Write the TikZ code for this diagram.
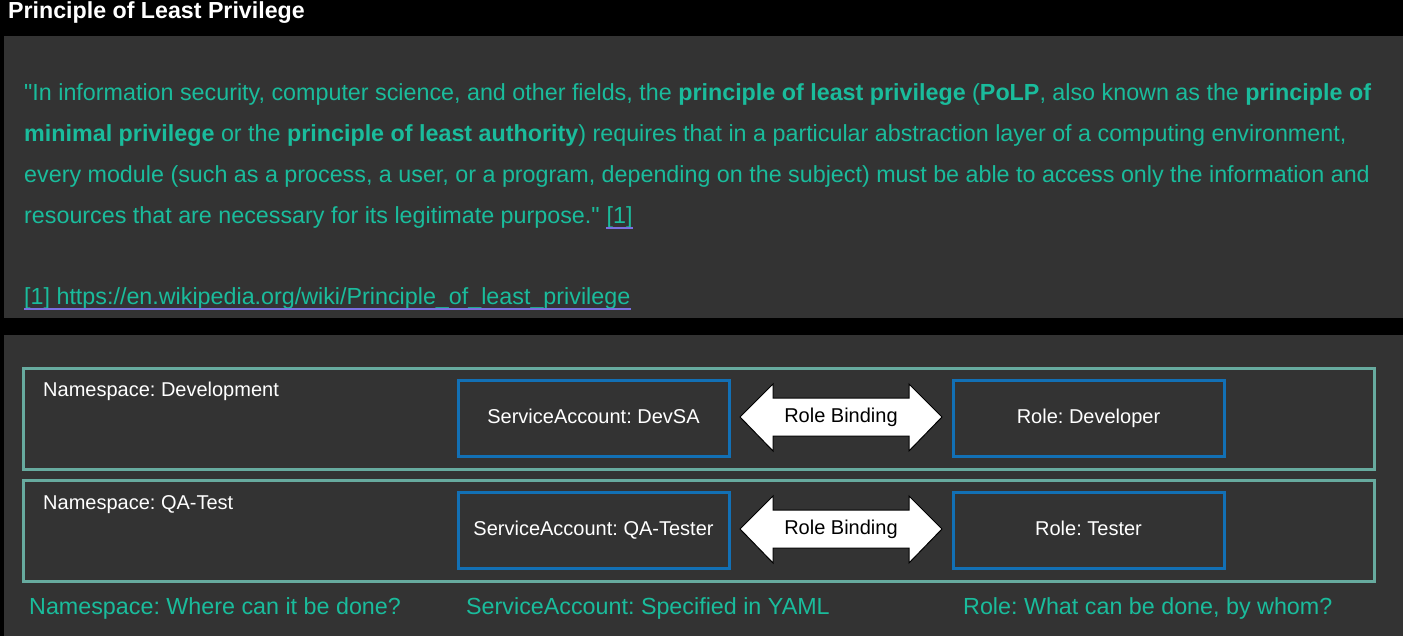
\documentclass[tikz,border=0pt]{standalone}
\usepackage{fontspec}
\setmainfont{Liberation Sans}[Ligatures=TeXOff]
\frenchspacing
\definecolor{bg}{HTML}{333333}
\definecolor{grn}{HTML}{1ABC9C}
\definecolor{nsteal}{HTML}{67AB9F}
\definecolor{blu}{HTML}{1270B5}
\definecolor{lnk}{HTML}{7A6FE0}
\tikzset{
  quote/.style={anchor=base west, inner sep=0, text=grn, font=\fontsize{23.3}{28}\selectfont},
  nsbox/.style={draw=nsteal, line width=3pt, minimum width=1351, minimum height=101, inner sep=0},
  bluebox/.style={draw=blu, line width=3pt, minimum width=271, minimum height=76, inner sep=0, text height=15pt, text depth=4.6pt, text=white, font=\fontsize{20}{24}\selectfont},
  nslabel/.style={anchor=west, inner sep=0, text=white, font=\fontsize{20}{24}\selectfont},
  rblabel/.style={inner sep=0, text=black, font=\fontsize{20}{24}\selectfont},
  arrowshape/.style={fill=white, draw=black, line width=1pt},
  caption/.style={anchor=west, inner sep=0, text=grn, font=\fontsize{23.3}{28}\selectfont},
  linkline/.style={draw=lnk, line width=1.5pt}
}
\begin{document}
\begin{tikzpicture}[x=1pt,y=-1pt]
\useasboundingbox (0,0) rectangle (1403,636);
\fill[black] (0,0) rectangle (1403,636);
\node[anchor=west, inner sep=0, text=white, font=\bfseries\fontsize{23.2}{27}\selectfont] (title) at (8,13) {Principle of Least Privilege};
\fill[bg] (4,36) rectangle (1403,318);
\fill[bg] (4,335) rectangle (1403,636);
% quote
\node[quote] (q1) at (24,101) {"In information security, computer science, and other fields, the \textbf{principle of least privilege} (\textbf{PoLP}, also known as the \textbf{principle of}};
\node[quote] (q2) at (24,142) {\textbf{minimal privilege} or the \textbf{principle of least authority}) requires that in a particular abstraction layer of a computing environment,};
\node[quote] (q3) at (24,183) {every module (such as a process, a user, or a program, depending on the subject) must be able to access only the information and};
\node[quote] (q4) at (24,224) {resources that are necessary for its legitimate purpose."};
\node[quote] (r1) at ([xshift=6.5]q4.base east) {[1]};
\node[quote] (ref) at (24,305) {[1] https://en.wikipedia.org/wiki/Principle\_of\_least\_privilege};
\draw[linkline] ([yshift=-4]r1.base west) -- ([yshift=-4]r1.base east);
\draw[linkline] ([yshift=-4]ref.base west) -- ([yshift=-4]ref.base east);
% namespaces
\node[nsbox] (ns1) at (698.5,418.5) {};
\node[nsbox] (ns2) at (698.5,530.5) {};
\node[nslabel] (ns1l) at (43,391) {Namespace: Development};
\node[nslabel] (ns2l) at (43,505) {Namespace: QA-Test};
\node[bluebox] (sa1) at (593.5,418) {ServiceAccount: DevSA};
\node[bluebox] (ro1) at (1088.5,418) {Role: Developer};
\node[bluebox] (sa2) at (593.5,530) {ServiceAccount: QA-Tester};
\node[bluebox] (ro2) at (1088.5,530) {Role: Tester};
% role binding arrows
\foreach \cy/\nm in {417/rb1, 529/rb2}{
  \draw[arrowshape] (740,\cy) -- (773,\cy-33) -- (773,\cy-19) -- (909,\cy-19) -- (909,\cy-33) -- (942,\cy)
    -- (909,\cy+34) -- (909,\cy+19) -- (773,\cy+19) -- (773,\cy+34) -- cycle;
  \node[rblabel] (\nm) at (841,\cy) {Role Binding};
}
% captions
\node[caption] (c1) at (29,608) {Namespace: Where can it be done?};
\node[caption] (c2) at (466,608) {ServiceAccount: Specified in YAML};
\node[caption] (c3) at (963,608) {Role: What can be done, by whom?};
\end{tikzpicture}
\end{document}
